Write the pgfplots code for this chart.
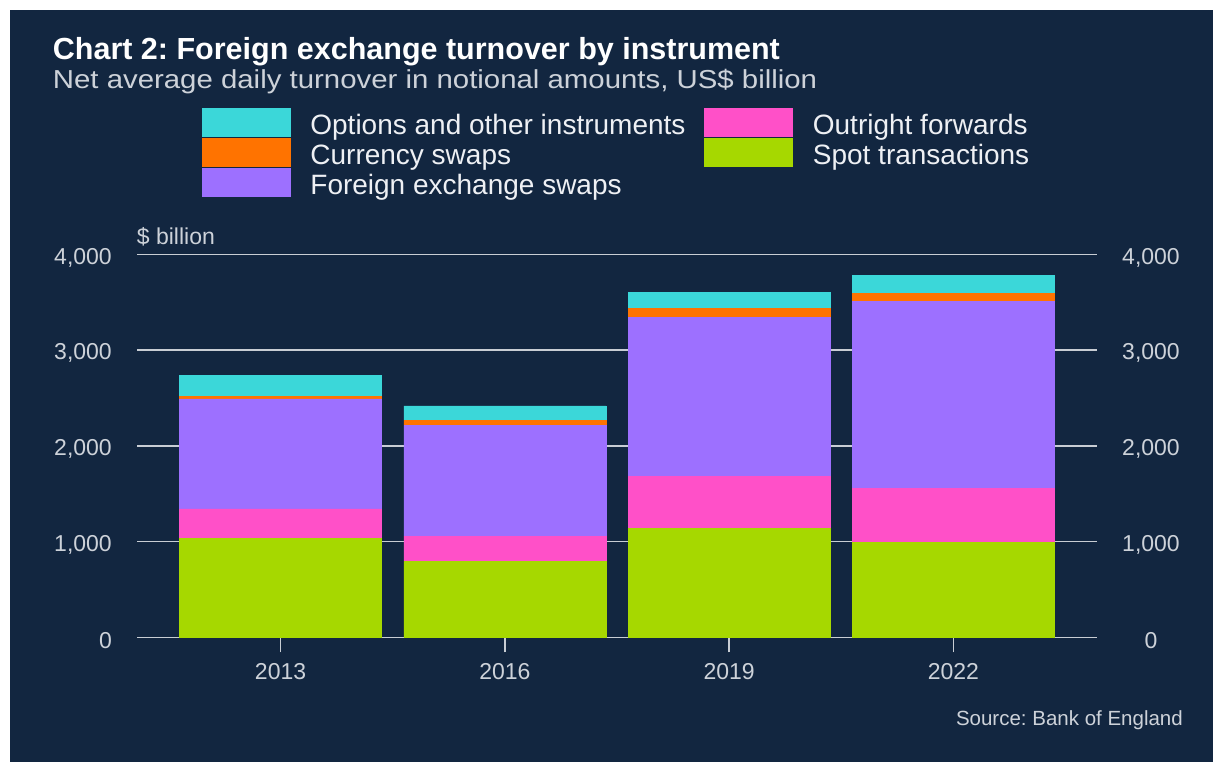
\documentclass[border=0pt]{standalone}
\usepackage{pgfplots}
\usepackage{pgfplotstable}
\pgfplotsset{compat=1.18}
\usepackage{fontspec}
\setmainfont{Liberation Sans}
\frenchspacing
\definecolor{bg}{RGB}{18,38,64}
\definecolor{gridc}{RGB}{200,205,212}
\definecolor{txt}{RGB}{205,210,217}
\definecolor{legtxt}{RGB}{238,240,244}
\definecolor{cOpt}{RGB}{59,215,217}
\definecolor{cCur}{RGB}{255,115,0}
\definecolor{cFxs}{RGB}{157,112,255}
\definecolor{cOut}{RGB}{255,80,200}
\definecolor{cSpot}{RGB}{166,216,0}

\pgfplotstableread{
x spot outright fxswaps currency options
0 1037 306 1149 27 217
1 792 266 1158 52 151
2 1141 541 1665 88 167
3 991 565 1958 78 191
}\turnover

\begin{document}
\begin{tikzpicture}
\useasboundingbox (0pt,0pt) rectangle (1213pt,762pt);
\fill[white] (0pt,0pt) rectangle (1213pt,762pt);
\fill[bg] (10pt,0pt) rectangle (1213pt,752pt);
\begin{axis}[
  at={(137pt,124.5pt)}, anchor=south west,
  scale only axis, width=960pt, height=383pt,
  xmin=-0.64, xmax=3.64, ymin=0, ymax=4000,
  ybar stacked, bar width=0.9,
  axis line style={draw=none},
  xtick={0,1,2,3}, xticklabels={2013,2016,2019,2022},
  ytick={0,1000,2000,3000,4000},
  yticklabels={0,{1,000},{2,000},{3,000},{4,000}},
  ymajorgrids, grid style={gridc, line width=1.5pt},
  xtick style={draw=gridc, line width=1.5pt},
  ytick style={draw=none},
  tick align=outside, major tick length=15pt,
  xtick pos=lower, ytick pos=left,
  ticklabel style={font=\fontsize{23}{23}\selectfont, text=txt, inner sep=0pt},
  yticklabel style={anchor=east, xshift=-10pt, yshift=-3pt},
  xticklabel style={anchor=north, yshift=-11pt},
  legend columns=2,
  legend cell align=left,
  legend style={draw=none, fill=none, inner sep=0pt, outer sep=0pt,
    at={(0.0677,1.3825)}, anchor=north west,
    font=\fontsize{28}{28}\selectfont, text=legtxt,
    row sep=0pt, column sep=0pt,
    nodes={inner sep=0pt, text height=20pt, text depth=4pt},
    /tikz/every odd column/.append style={column sep=20pt},
    /tikz/every even column/.append style={column sep=19pt}},
]
\addplot[fill=cSpot, draw=cSpot, line width=0.4pt, forget plot] table[x=x, y=spot] {\turnover};
\addplot[fill=cOut, draw=cOut, line width=0.4pt, forget plot] table[x=x, y=outright] {\turnover};
\addplot[fill=cFxs, draw=cFxs, line width=0.4pt, forget plot] table[x=x, y=fxswaps] {\turnover};
\addplot[fill=cCur, draw=cCur, line width=0.4pt, forget plot] table[x=x, y=currency] {\turnover};
\addplot[fill=cOpt, draw=cOpt, line width=0.4pt, forget plot] table[x=x, y=options] {\turnover};
\addlegendimage{legend image code/.code={\fill[cOpt] (0pt,-10pt) rectangle (88pt,18pt);}}
\addlegendentry{Options and other instruments}
\addlegendimage{legend image code/.code={\fill[cOut] (0pt,-10pt) rectangle (88pt,18pt);}}
\addlegendentry{Outright forwards}
\addlegendimage{legend image code/.code={\fill[cCur] (0pt,-10pt) rectangle (88pt,18pt);}}
\addlegendentry{Currency swaps}
\addlegendimage{legend image code/.code={\fill[cSpot] (0pt,-10pt) rectangle (88pt,18pt);}}
\addlegendentry{Spot transactions}
\addlegendimage{legend image code/.code={\fill[cFxs] (0pt,-10pt) rectangle (88pt,18pt);}}
\addlegendentry{Foreign exchange swaps}
\end{axis}
\begin{axis}[
  at={(137pt,124.5pt)}, anchor=south west,
  scale only axis, width=960pt, height=383pt,
  xmin=-0.64, xmax=3.64, ymin=0, ymax=4000,
  axis line style={draw=none},
  xtick=\empty,
  ytick={0,1000,2000,3000,4000},
  yticklabels={0,{1,000},{2,000},{3,000},{4,000}},
  ytick style={draw=none},
  yticklabel pos=right, ytick pos=right,
  ticklabel style={font=\fontsize{23}{23}\selectfont, text=txt, inner sep=0pt},
  yticklabel style={anchor=center, xshift=54pt, yshift=-3pt},
]
\end{axis}
\node[anchor=base west, text=white, font=\bfseries\fontsize{30.5}{31}\selectfont, inner sep=0pt] at (52.7pt,702.7pt) {Chart 2: Foreign exchange turnover by instrument};
\node[anchor=base west, text=txt, font=\fontsize{26}{27}\selectfont, inner sep=0pt] at (52.7pt,673.7pt) {\scalebox{1.13}[1]{Net average daily turnover in notional amounts, US\$ billion}};
\node[anchor=base west, text=txt, font=\fontsize{23}{23}\selectfont, inner sep=0pt] at (136.7pt,517pt) {\$ billion};
\node[anchor=base east, text=txt, font=\fontsize{20.5}{21}\selectfont, inner sep=0pt] at (1183pt,36pt) {Source: Bank of England};
\end{tikzpicture}
\end{document}
